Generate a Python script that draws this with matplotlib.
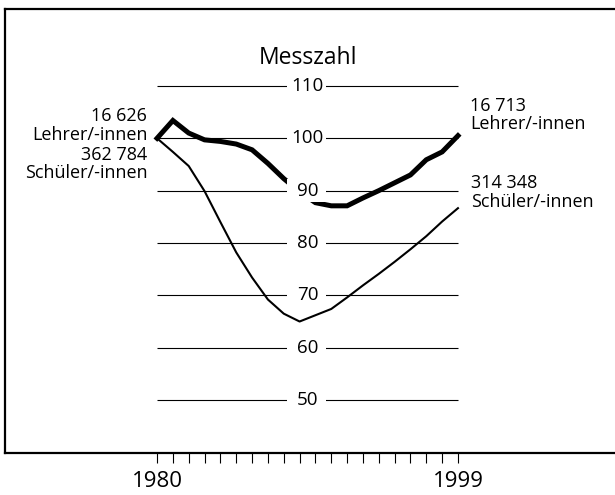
import matplotlib
matplotlib.use('Agg')
import matplotlib.pyplot as plt
from matplotlib.patches import Rectangle

plt.rcParams['font.family'] = ['Open Sans', 'DejaVu Sans']

years = list(range(1980, 2000))
lehrer = [100, 103.4, 101.0, 99.7, 99.4, 98.9, 97.8, 95.2, 92.3, 89.8,
          87.7, 87.1, 87.1, 88.6, 90.0, 91.5, 93.0, 95.9, 97.4, 100.5]
schueler = [100, 97.4, 94.7, 89.9, 84.0, 78.2, 73.4, 69.2, 66.5, 65.0,
            66.2, 67.4, 69.6, 71.9, 74.1, 76.4, 78.8, 81.3, 84.1, 86.65]
levels = [110, 100, 90, 80, 70, 60, 50]
year_labels = {1980: '1980', 1999: '1999'}

left_lehrer = '16 626\nLehrer/-innen'
left_schueler = '362 784\nSchüler/-innen'
right_lehrer = '16 713\nLehrer/-innen'
right_schueler = '314 348\nSchüler/-innen'


def main():
    fig = plt.figure(figsize=(6.15, 4.95), dpi=100)
    # axes frame = the black box, right edge runs off the picture
    ax = fig.add_axes([5 / 615, 42.3 / 495, 615 / 615, 443.4 / 495])
    ax.set_xlim(1970.40, 2009.23)
    ax.set_ylim(39.94, 124.64)

    for side in ['left', 'top', 'bottom']:
        ax.spines[side].set_linewidth(1.6)
    ax.spines['right'].set_visible(False)

    ax.set_yticks([])
    ax.set_xticks(years, labels=[year_labels.get(y, '') for y in years])
    ax.tick_params(axis='x', direction='out', length=7, width=0.8,
                   pad=6, labelsize=16)

    ax.hlines(levels, years[0], years[-1], color='black', lw=0.8, zorder=1)
    ax.plot(years, schueler, color='black', lw=1.5, zorder=2)
    ax.plot(years, lehrer, color='black', lw=3.6, zorder=2,
            solid_joinstyle='miter')

    mid = (years[0] + years[-1]) / 2
    for v in levels:
        ax.add_patch(Rectangle((1988.2, v - 2.2), 2.47, 4.4,
                               facecolor='white', edgecolor='none', zorder=3))
        ax.text(mid, v, str(v), ha='center', va='center', fontsize=13.5,
                zorder=4)

    ax.text(mid, 115.4, 'Messzahl', ha='center', va='center', fontsize=16.5)

    kw = dict(textcoords='offset points', fontsize=13, linespacing=1.05,
              va='center')
    ax.annotate(left_lehrer, (years[0], lehrer[0]), xytext=(-7, 9.2),
                ha='right', multialignment='right', **kw)
    ax.annotate(left_schueler, (years[0], schueler[0]), xytext=(-7, -18.5),
                ha='right', multialignment='right', **kw)
    ax.annotate(right_lehrer, (years[-1], lehrer[-1]), xytext=(8.5, 14.8),
                ha='left', **kw)
    ax.annotate(right_schueler, (years[-1], schueler[-1]), xytext=(9.5, 11.4),
                ha='left', **kw)

    fig.savefig('out.png', dpi=100)


if __name__ == '__main__':
    main()
